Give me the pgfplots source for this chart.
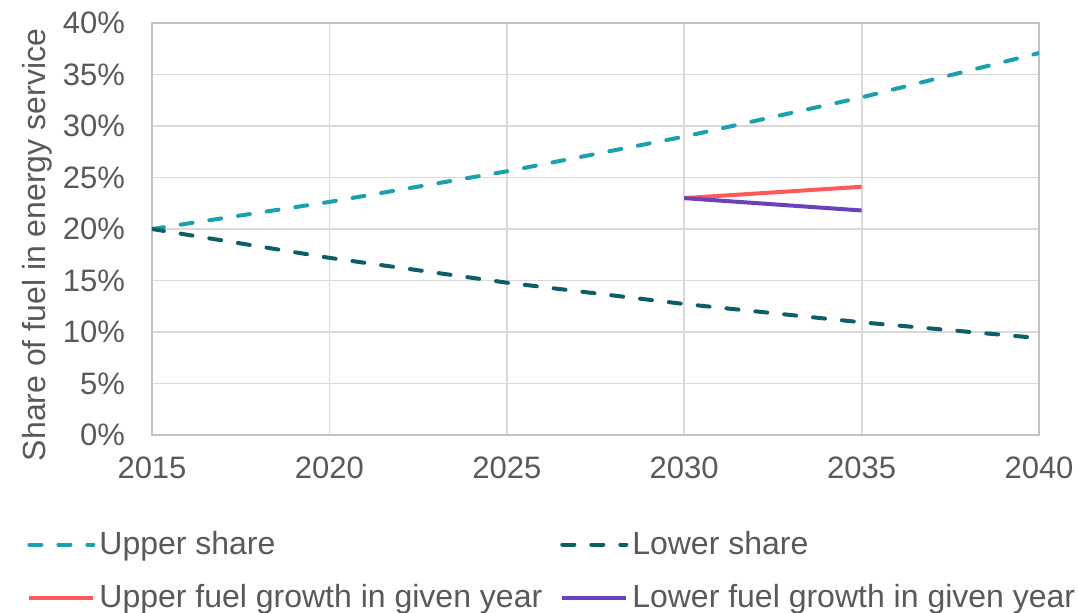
\documentclass[border=0pt]{standalone}
\usepackage{fontspec}
\setmainfont{Liberation Sans}
\usepackage{pgfplots}
\pgfplotsset{compat=1.18}

\definecolor{txt}{HTML}{595959}
\definecolor{gridc}{HTML}{D9D9D9}
\definecolor{upperc}{HTML}{1AA0AE}
\definecolor{lowerc}{HTML}{0C5F66}
\definecolor{redc}{HTML}{FF5A5A}
\definecolor{purc}{HTML}{6A40BF}

\begin{document}
\begin{tikzpicture}
\begin{axis}[
  scale only axis,
  width=443.5pt, height=206pt,
  xmin=2015, xmax=2040,
  ymin=0, ymax=40,
  xtick={2015,2020,...,2040},
  ytick={0,5,...,40},
  xticklabel style={/pgf/number format/1000 sep={}, yshift=-7.5pt},
  yticklabel={\pgfmathprintnumber{\tick}\%},
  yticklabel style={xshift=-10pt},
  /pgf/number format/assume math mode=true,
  ticklabel style={font=\fontsize{15.5}{18}\selectfont, text=txt},
  major tick length=0pt,
  grid=major,
  major grid style={gridc, line width=0.9pt},
  axis line style={gridc!90!black, line width=0.9pt},
  ylabel={Share of fuel in energy service},
  ylabel style={font=\fontsize{16}{19}\selectfont, text=txt, yshift=-1.5pt, xshift=-8pt},
  legend columns=2,
  legend cell align=left,
  legend style={
    at={(0,0)}, anchor=north west,
    xshift=-62.5pt, yshift=-46pt,
    draw=none, fill=none, inner sep=0pt,
    font=\fontsize{16}{19}\selectfont, text=txt,
    row sep=9.5pt,
    /tikz/every even column/.append style={column sep=7pt},
  },
  legend image code/.code={\draw[#1] (0pt,0pt) -- (32pt,0pt);},
  every axis plot/.append style={line width=2pt},
]
% Upper share trajectory
\addplot[upperc, line cap=round, dash pattern=on 6pt off 8.5pt]
  coordinates {(2015,20) (2020,22.63) (2025,25.6) (2030,28.97) (2035,32.78) (2040,37.08)};
\addlegendentry{Upper share}
% Lower share trajectory
\addplot[lowerc, line cap=round, dash pattern=on 6pt off 8.5pt]
  coordinates {(2015,20) (2020,17.2) (2025,14.79) (2030,12.72) (2035,10.94) (2040,9.41)};
\addlegendentry{Lower share}
% Fuel growth within a given year
\addplot[redc] coordinates {(2030,23.0) (2035,24.1)};
\addlegendentry{Upper fuel growth in given year}
\addplot[purc] coordinates {(2030,23.0) (2035,21.8)};
\addlegendentry{Lower fuel growth in given year}
\end{axis}
% fixed page frame around the axis
\pgfresetboundingbox
\path (current axis.south west) ++(-76pt,-88.5pt) rectangle ([shift={(20pt,11.5pt)}]current axis.north east);
\end{tikzpicture}
\end{document}
